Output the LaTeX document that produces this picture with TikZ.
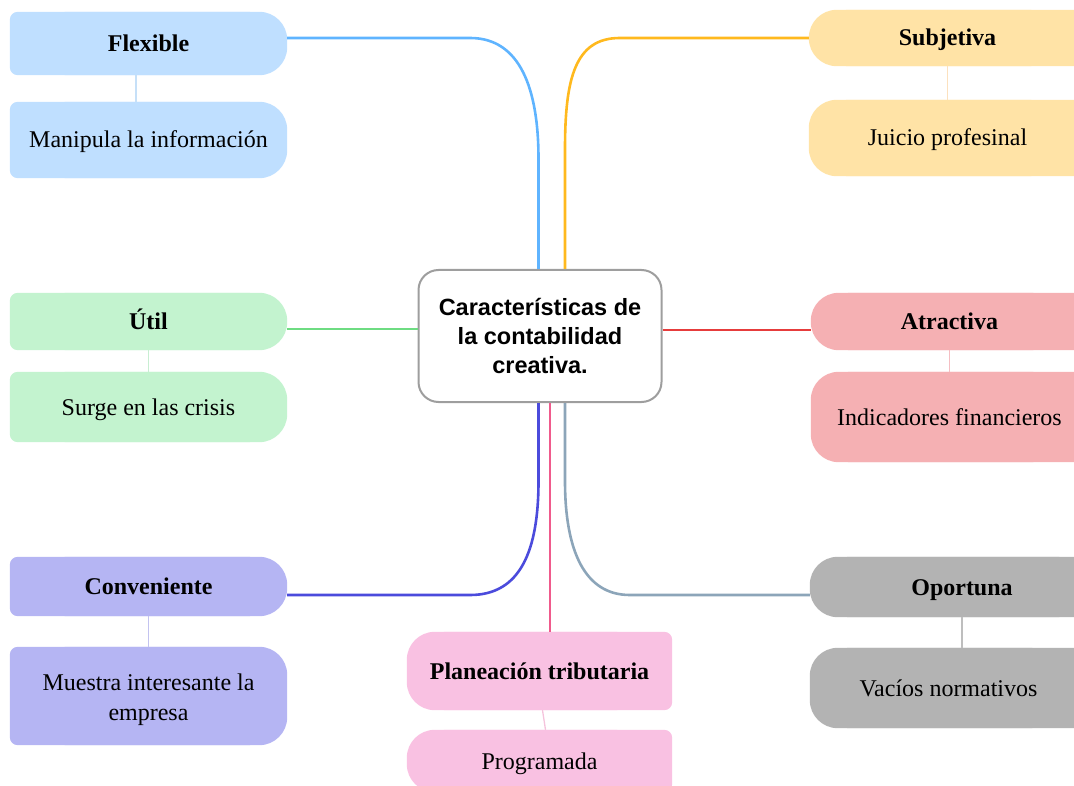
\documentclass[tikz,border=0pt]{standalone}
\usepackage{fontspec}
\setmainfont{Liberation Serif}
\newfontfamily\rootfont{Liberation Sans}
\usetikzlibrary{backgrounds}

\definecolor{flexfill}{RGB}{191,223,255}
\definecolor{subjfill}{RGB}{255,227,166}
\definecolor{utilfill}{RGB}{195,243,207}
\definecolor{atrafill}{RGB}{245,176,179}
\definecolor{convfill}{RGB}{181,181,243}
\definecolor{oporfill}{RGB}{179,179,179}
\definecolor{planfill}{RGB}{249,193,226}
\definecolor{flexline}{RGB}{95,180,255}
\definecolor{subjline}{RGB}{255,185,30}
\definecolor{utilline}{RGB}{110,220,130}
\definecolor{atraline}{RGB}{230,60,60}
\definecolor{convline}{RGB}{75,75,220}
\definecolor{oporline}{RGB}{140,165,185}
\definecolor{planline}{RGB}{240,90,140}
\definecolor{flextwig}{RGB}{198,224,248}
\definecolor{subjtwig}{RGB}{252,225,190}
\definecolor{utiltwig}{RGB}{200,238,210}
\definecolor{atratwig}{RGB}{245,190,195}
\definecolor{convtwig}{RGB}{195,195,240}
\definecolor{oportwig}{RGB}{190,190,190}
\definecolor{plantwig}{RGB}{245,195,220}

% box fills: big corners on the right / on the left
\newcommand\fillbigright[2]{%
  \fill[#2,rounded corners=8pt] (#1.north west) rectangle ([xshift=-30pt]#1.south east);
  \fill[#2,rounded corners=28pt] ([xshift=30pt]#1.north west) rectangle (#1.south east);}
\newcommand\fillbigleft[2]{%
  \fill[#2,rounded corners=28pt] (#1.north west) rectangle ([xshift=-30pt]#1.south east);
  \fill[#2,rounded corners=8pt] ([xshift=30pt]#1.north west) rectangle (#1.south east);}

\begin{document}
\begin{tikzpicture}[
    x=1pt, y=-1pt,
    leaf/.style={inner sep=0pt, minimum width=277pt, align=center,
      text height=18pt, text depth=2pt,
      font=\fontsize{24}{30}\selectfont},
    head/.style={leaf, font=\fontsize{24}{30}\selectfont\bfseries},
    trunk/.style={line width=2.6pt},
    twig/.style={line width=1.3pt},
  ]
  \useasboundingbox (0,0) rectangle (1074,786);
  \clip (0,0) rectangle (1074,786);

  \node[draw=black!38, line width=2pt, rounded corners=20pt, fill=white,
    minimum width=243pt, minimum height=132pt, align=center,
    font=\rootfont\fontsize{23.5}{29}\selectfont\bfseries]
    (root) at (540,336) {Características de\\la contabilidad\\creativa.};

  % left column
  \node[head, minimum height=63pt] (flex) at (148.5,43.5) {Flexible};
  \node[leaf, minimum height=76pt] (manip) at (148.5,140) {Manipula la información};
  \node[head, minimum height=57pt] (util) at (148.5,321.5) {Útil};
  \node[leaf, minimum height=70pt] (crisis) at (148.5,407) {Surge en las crisis};
  \node[head, minimum height=59pt] (conv) at (148.5,586.5) {Conveniente};
  \node[leaf, minimum height=98pt, text height=54pt, text depth=6pt] (muestra)
    at (148.5,696) {Muestra interesante la\\empresa};

  % right column
  \node[head, minimum height=56pt] (subj) at (947.5,38) {Subjetiva};
  \node[leaf, minimum height=76pt] (juicio) at (947.5,138) {Juicio profesinal};
  \node[head, minimum height=57pt] (atra) at (949.5,321.5) {Atractiva};
  \node[leaf, minimum height=90pt] (indic) at (949.5,417) {Indicadores financieros};
  \node[head, minimum height=60pt, minimum width=304pt] (opor) at (962,587) {Oportuna};
  \node[leaf, minimum height=80pt] (vacios) at (948.5,688) {Vacíos normativos};

  % bottom
  \node[head, minimum height=78pt, minimum width=265pt] (plan) at (539.5,671) {Planeación tributaria};
  \node[leaf, minimum height=62pt, minimum width=265pt] (prog) at (539.5,761) {Programada};

  \begin{pgfonlayer}{background}
    \clip (0,0) rectangle (1074,786);
    \fillbigright{flex}{flexfill}
    \fillbigright{manip}{flexfill}
    \fillbigright{util}{utilfill}
    \fillbigright{crisis}{utilfill}
    \fillbigright{conv}{convfill}
    \fillbigright{muestra}{convfill}
    \fillbigleft{subj}{subjfill}
    \fillbigleft{juicio}{subjfill}
    \fillbigleft{atra}{atrafill}
    \fillbigleft{indic}{atrafill}
    \fillbigleft{opor}{oporfill}
    \fillbigleft{vacios}{oporfill}
    \fillbigleft{plan}{planfill}
    \fillbigleft{prog}{planfill}
  \end{pgfonlayer}

  % branches
  \draw[trunk, flexline] ([yshift=5.5pt]flex.east) -- ++(183,0)
    .. controls +(50,0) and +(0,-70) .. ([xshift=-1.5pt,yshift=110pt]root.north)
    -- ([xshift=-1.5pt]root.north);
  \draw[trunk, subjline] (subj.west) -- ++(-189,0)
    .. controls +(-45,0) and +(0,-70) .. ([xshift=25pt,yshift=120pt]root.north)
    -- ([xshift=25pt]root.north);
  \draw[trunk, utilline] (util.east |- 0,329) -- (root.west |- 0,329);
  \draw[trunk, atraline] (root.east |- 0,330) -- (atra.west |- 0,330);
  \draw[trunk, convline] ([yshift=-8.5pt]conv.east) -- ++(183,0)
    .. controls +(50,0) and +(0,70) .. ([xshift=-1.5pt,yshift=-78pt]root.south)
    -- ([xshift=-1.5pt]root.south);
  \draw[trunk, oporline] ([yshift=-8pt]opor.west) -- ++(-180,0)
    .. controls +(-45,0) and +(0,70) .. ([xshift=25pt,yshift=-78pt]root.south)
    -- ([xshift=25pt]root.south);
  \draw[trunk, planline] (root.south -| 550,0) -- (plan.north -| 550,0);

  % twigs
  \draw[twig, flextwig] ([xshift=-12.5pt]flex.south) -- ([xshift=-12.5pt]manip.north);
  \draw[twig, utiltwig] (util.south) -- (crisis.north);
  \draw[twig, convtwig] (conv.south) -- (muestra.north);
  \draw[twig, subjtwig] (subj.south) -- (juicio.north);
  \draw[twig, atratwig] (atra.south) -- (indic.north);
  \draw[twig, oportwig] (opor.south) -- (opor.south |- vacios.north);
  \draw[twig, plantwig] ([xshift=3pt]plan.south) -- ([xshift=6pt]prog.north);
\end{tikzpicture}
\end{document}
